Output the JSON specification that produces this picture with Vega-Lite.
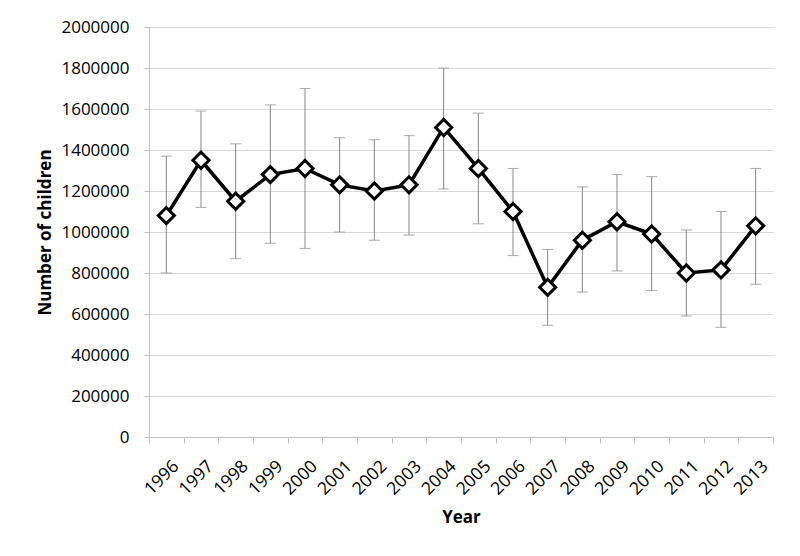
{
  "$schema": "https://vega.github.io/schema/vega-lite/v6.json",
  "width": 624,
  "height": 410,
  "autosize": {"type": "none"},
  "padding": {"left": 149, "top": 27, "right": 27, "bottom": 119},
  "background": "white",
  "config": {
    "view": {"stroke": null},
    "font": "Open Sans",
    "axis": {
      "labelFont": "Open Sans",
      "titleFont": "Open Sans",
      "labelFontSize": 17,
      "titleFontSize": 17,
      "labelColor": "#000000",
      "titleColor": "#000000",
      "titleFontWeight": "bold",
      "domainColor": "#bfbfbf",
      "tickColor": "#bfbfbf",
      "gridColor": "#d9d9d9",
      "gridWidth": 1
    }
  },
  "data": {
    "values": [
      {"year": "1996", "value": 1080000, "low": 800000, "high": 1370000},
      {"year": "1997", "value": 1350000, "low": 1120000, "high": 1590000},
      {"year": "1998", "value": 1150000, "low": 870000, "high": 1430000},
      {"year": "1999", "value": 1280000, "low": 945000, "high": 1620000},
      {"year": "2000", "value": 1310000, "low": 920000, "high": 1700000},
      {"year": "2001", "value": 1230000, "low": 1000000, "high": 1460000},
      {"year": "2002", "value": 1200000, "low": 960000, "high": 1450000},
      {"year": "2003", "value": 1230000, "low": 985000, "high": 1470000},
      {"year": "2004", "value": 1510000, "low": 1210000, "high": 1800000},
      {"year": "2005", "value": 1310000, "low": 1040000, "high": 1580000},
      {"year": "2006", "value": 1100000, "low": 885000, "high": 1310000},
      {"year": "2007", "value": 730000, "low": 545000, "high": 915000},
      {"year": "2008", "value": 960000, "low": 707000, "high": 1220000},
      {"year": "2009", "value": 1050000, "low": 810000, "high": 1280000},
      {"year": "2010", "value": 990000, "low": 715000, "high": 1270000},
      {"year": "2011", "value": 800000, "low": 590000, "high": 1010000},
      {"year": "2012", "value": 815000, "low": 535000, "high": 1100000},
      {"year": "2013", "value": 1030000, "low": 745000, "high": 1310000}
    ]
  },
  "encoding": {
    "x": {
      "field": "year",
      "type": "ordinal",
      "title": "Year",
      "scale": {"type": "band", "paddingInner": 0, "paddingOuter": 0},
      "axis": {
        "labelAngle": -45,
        "tickBand": "extent",
        "tickSize": 6,
        "labelPadding": 14,
        "labelOffset": 3,
        "labelFontSize": 17.5,
        "titlePadding": 12,
        "grid": false
      }
    }
  },
  "layer": [
    {
      "mark": {"type": "rule", "color": "#888888", "strokeWidth": 1},
      "encoding": {
        "y": {
          "field": "low",
          "type": "quantitative",
          "title": "Number of children",
          "scale": {"domain": [0, 2000000]},
          "axis": {
            "values": [0, 200000, 400000, 600000, 800000, 1000000, 1200000, 1400000, 1600000, 1800000, 2000000],
            "format": "d",
            "tickSize": 5,
            "labelPadding": 15,
            "titlePadding": 6,
            "grid": true
          }
        },
        "y2": {"field": "high"}
      }
    },
    {
      "mark": {"type": "tick", "color": "#888888", "thickness": 1, "size": 11, "orient": "horizontal"},
      "encoding": {"y": {"field": "low", "type": "quantitative"}}
    },
    {
      "mark": {"type": "tick", "color": "#888888", "thickness": 1, "size": 11, "orient": "horizontal"},
      "encoding": {"y": {"field": "high", "type": "quantitative"}}
    },
    {
      "mark": {"type": "line", "color": "#000000", "strokeWidth": 3.5},
      "encoding": {"y": {"field": "value", "type": "quantitative"}}
    },
    {
      "mark": {"type": "point", "shape": "diamond", "filled": true, "fill": "#ffffff", "stroke": "#000000", "strokeWidth": 3, "size": 260, "opacity": 1},
      "encoding": {"y": {"field": "value", "type": "quantitative"}}
    }
  ]
}
